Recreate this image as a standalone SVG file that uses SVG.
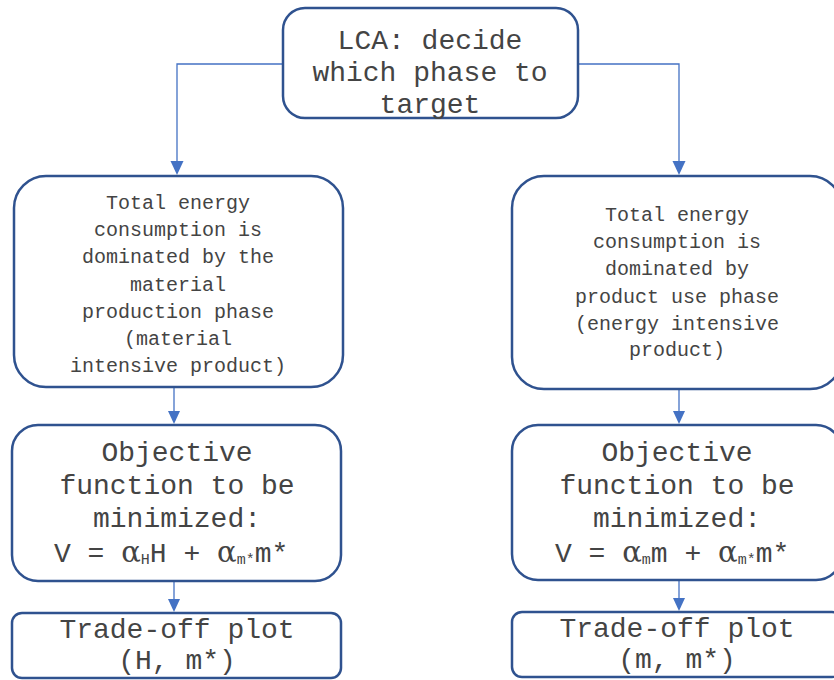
<svg xmlns="http://www.w3.org/2000/svg" width="834" height="680" viewBox="0 0 834 680">
<style>
.box{fill:#fff;stroke:#2F528F;stroke-width:2.5}
.t{font-family:"Liberation Mono","Courier New",monospace;fill:#444;text-anchor:middle}
.s20{font-size:20px}
.s28{font-size:28px}
.c{fill:none;stroke:#4472C4;stroke-width:1.3}
.ah{fill:#4472C4}
.sub{font-size:15px}
.al{font-family:"DejaVu Serif",serif;font-size:29px}
</style>
<rect width="834" height="680" fill="#fff"/>
<g id="connectors">
<path class="c" d="M283,64 H177 V162"/>
<path class="ah" d="M170.5,161 L183.5,161 L177,175 Z"/>
<path class="c" d="M578,64 H679 V162"/>
<path class="ah" d="M672.5,161 L685.5,161 L679,175 Z"/>
<path class="c" d="M174,388 V412"/>
<path class="ah" d="M168,411 L180,411 L174,424 Z"/>
<path class="c" d="M679,390 V412"/>
<path class="ah" d="M673,411 L685,411 L679,424 Z"/>
<path class="c" d="M174,581 V600"/>
<path class="ah" d="M168,599 L180,599 L174,612 Z"/>
<path class="c" d="M679,580 V599"/>
<path class="ah" d="M673,598 L685,598 L679,611 Z"/>
</g>
<g id="lca">
<rect class="box" x="283" y="8" width="295" height="110" rx="22"/>
<text class="t s28" x="430" y="49">LCA: decide</text>
<text class="t s28" x="430" y="81">which phase to</text>
<text class="t s28" x="430" y="113">target</text>
</g>
<g id="material">
<rect class="box" x="14" y="176" width="329" height="211" rx="32"/>
<text class="t s20" x="178" y="209">Total energy</text>
<text class="t s20" x="178" y="236">consumption is</text>
<text class="t s20" x="178" y="263">dominated by the</text>
<text class="t s20" x="178" y="291">material</text>
<text class="t s20" x="178" y="318">production phase</text>
<text class="t s20" x="178" y="345">(material</text>
<text class="t s20" x="178" y="372">intensive product)</text>
</g>
<g id="use">
<rect class="box" x="512" y="176" width="330" height="213" rx="32"/>
<text class="t s20" x="677" y="221">Total energy</text>
<text class="t s20" x="677" y="248">consumption is</text>
<text class="t s20" x="677" y="275">dominated by</text>
<text class="t s20" x="677" y="303">product use phase</text>
<text class="t s20" x="677" y="330">(energy intensive</text>
<text class="t s20" x="677" y="356">product)</text>
</g>
<g id="objL">
<rect class="box" x="12" y="425" width="329" height="156" rx="26"/>
<text class="t s28" x="177" y="461">Objective</text>
<text class="t s28" x="177" y="494">function to be</text>
<text class="t s28" x="177" y="527">minimized:</text>
<text class="t s28" x="54" y="562" style="text-anchor:start">V = <tspan class="al">α</tspan><tspan class="sub" dy="2">H</tspan><tspan dy="-2">H + </tspan><tspan class="al">α</tspan><tspan class="sub" dy="2">m*</tspan><tspan dy="-2">m*</tspan></text>
</g>
<g id="objR">
<rect class="box" x="512" y="425" width="330" height="155" rx="26"/>
<text class="t s28" x="677" y="461">Objective</text>
<text class="t s28" x="677" y="494">function to be</text>
<text class="t s28" x="677" y="527">minimized:</text>
<text class="t s28" x="555" y="562" style="text-anchor:start">V = <tspan class="al">α</tspan><tspan class="sub" dy="2">m</tspan><tspan dy="-2">m + </tspan><tspan class="al">α</tspan><tspan class="sub" dy="2">m*</tspan><tspan dy="-2">m*</tspan></text>
</g>
<g id="plotL">
<rect class="box" x="12" y="613" width="329" height="65" rx="10"/>
<text class="t s28" x="177" y="638">Trade-off plot</text>
<text class="t s28" x="177" y="669">(H, m*)</text>
</g>
<g id="plotR">
<rect class="box" x="512" y="612" width="330" height="65" rx="10"/>
<text class="t s28" x="677" y="637">Trade-off plot</text>
<text class="t s28" x="677" y="668">(m, m*)</text>
</g>
</svg>
